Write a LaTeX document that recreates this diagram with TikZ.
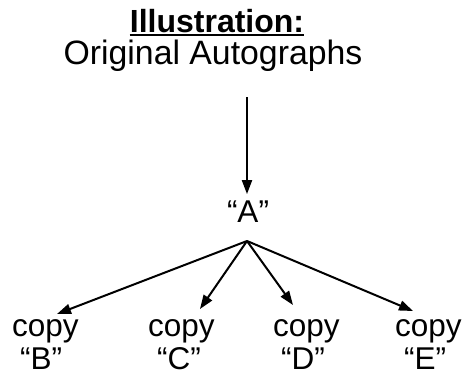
\documentclass[tikz,border=0pt]{standalone}
\usepackage{fontspec}
\setmainfont{Liberation Sans}
\usetikzlibrary{arrows.meta}
\begin{document}
\begin{tikzpicture}[x=1pt,y=-1pt,
  txt/.style={font=\fontsize{31.5}{36}\selectfont, inner sep=0pt},
  ttl/.style={font=\fontsize{32}{37}\selectfont\bfseries, inner sep=0pt},
  arr/.style={line width=2pt, -{Triangle[length=14pt,width=10pt]}}]
\useasboundingbox (0,0) rectangle (464,375);
% titles
\node[ttl, anchor=base] (title) at (217,32) {Illustration:};
\draw[line width=2.6pt] ([yshift=-3pt]title.base west) -- ([yshift=-3pt]title.base east);
\node[txt, font=\fontsize{33.8}{38}\selectfont, anchor=base] (orig) at (213,64) {Original Autographs};
% A
\coordinate (top) at (247,97);
\node[txt, anchor=base] (A) at (248,222) {“A”};
\coordinate (apex) at (247,241);
\draw[arr, shorten >=6pt] (top) -- (top |- A.north);
% copies
\node[txt, anchor=base west] (cB) at (12,336) {copy};
\node[txt, anchor=base west] (qB) at (20,369) {“B”};
\node[txt, anchor=base west] (cC) at (148,336) {copy};
\node[txt, anchor=base west] (qC) at (157,369) {“C”};
\node[txt, anchor=base west] (cD) at (273,336) {copy};
\node[txt, anchor=base west] (qD) at (281,369) {“D”};
\node[txt, anchor=base west] (cE) at (395,336) {copy};
\node[txt, anchor=base west] (qE) at (404,369) {“E”};
\coordinate (tB) at (57,314);
\coordinate (tC) at (200,309);
\coordinate (tD) at (293,305);
\coordinate (tE) at (413,311);
\draw[arr] (apex) -- (tB);
\draw[arr] (apex) -- (tC);
\draw[arr] (apex) -- (tD);
\draw[arr] (apex) -- (tE);
\end{tikzpicture}
\end{document}
